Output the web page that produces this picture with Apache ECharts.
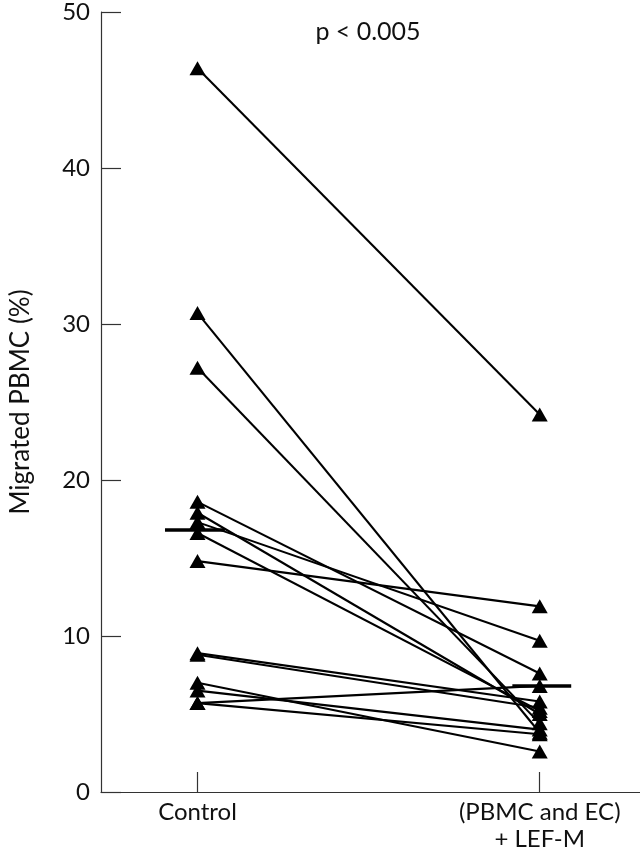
<!DOCTYPE html>
<html>
<head>
<meta charset="utf-8">
<script src="https://cdn.jsdelivr.net/npm/echarts@6/dist/echarts.min.js"></script>
<style>html,body{margin:0;padding:0;background:#fff;}#c{width:640px;height:853px;}</style>
</head>
<body>
<div id="c"></div>
<script>
var categories = ['Control', '(PBMC and EC)\n+ LEF-M'];
var controlValues = [46.4, 30.7, 27.2, 18.6, 17.9, 17.3, 16.6, 14.8, 8.9, 8.8, 7.0, 6.5, 5.7, 5.7];
var lefValues =     [24.2, 3.8, 4.4, 7.6, 5.0, 9.7, 5.2, 11.9, 5.8, 5.4, 2.6, 4.0, 6.8, 3.7];
var medians = [16.8, 6.8];
var yTicks = [0, 10, 20, 30, 40, 50];
var pText = 'p < 0.005';

var font = 'Lato';
var series = [];
for (var i = 0; i < controlValues.length; i++) {
  series.push({
    type: 'line',
    data: [[1, controlValues[i]], [2, lefValues[i]]],
    symbol: 'triangle',
    symbolSize: [16, 14],
    itemStyle: { color: '#000' },
    lineStyle: { color: '#000', width: 2.1 },
    z: 3,
    animation: false
  });
}
// median bars
series.push({
  type: 'line', data: [[0.905, medians[0]], [1.08, medians[0]]],
  symbol: 'none', lineStyle: { color: '#000', width: 3.5 }, z: 4, animation: false
});
series.push({
  type: 'line', data: [[1.92, medians[1]], [2.092, medians[1]]],
  symbol: 'none', lineStyle: { color: '#000', width: 3.5 }, z: 4, animation: false
});

var chart = echarts.init(document.getElementById('c'));
chart.setOption({
  backgroundColor: '#fff',
  animation: false,
  title: {
    text: pText, left: 363, top: 14, textAlign: 'center',
    textStyle: { fontFamily: font, fontSize: 25, fontWeight: 'normal', color: '#111' }
  },
  grid: { left: 92, right: 0, top: 12, bottom: 60 },
  xAxis: {
    type: 'value', min: 0.718, max: 2.293,
    axisLine: { show: true, lineStyle: { color: '#333', width: 1.2 } },
    splitLine: { show: false },
    axisTick: { show: true, inside: true, length: 20, customValues: [1, 2], lineStyle: { color: '#333', width: 1.2 } },
    axisLabel: {
      customValues: [1, 2], margin: 7,
      formatter: function (v) { return categories[Math.round(v) - 1]; },
      fontFamily: font, fontSize: 24, color: '#111', lineHeight: 27
    }
  },
  yAxis: {
    type: 'value', min: 0, max: 50, interval: 10,
    name: 'Migrated PBMC (%)', nameLocation: 'middle', nameGap: 67,
    nameTextStyle: { fontFamily: font, fontSize: 26, color: '#111' },
    axisLine: { show: true, lineStyle: { color: '#333', width: 1.2 } },
    splitLine: { show: false },
    axisTick: { show: true, inside: true, length: 20, lineStyle: { color: '#333', width: 1.2 } },
    axisLabel: {
      margin: 11, fontFamily: font, fontSize: 24, color: '#111',
      formatter: function (v) { return yTicks.indexOf(v) >= 0 ? String(v) : ''; }
    }
  },
  series: series
});
</script>
</body>
</html>
